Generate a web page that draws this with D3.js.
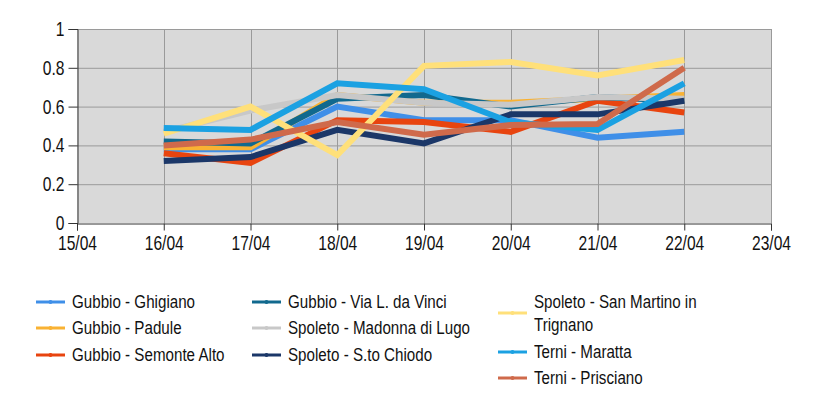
<!DOCTYPE html>
<html>
<head>
<meta charset="utf-8">
<script src="https://cdn.jsdelivr.net/npm/d3@7"></script>
<style>
  html, body { margin: 0; padding: 0; background: #fff; }
  svg { display: block; }
  text { font-family: "Liberation Sans", Arial, sans-serif; fill: #111; }
</style>
</head>
<body>
<svg id="chart" width="827" height="413"></svg>
<script>
const dates = ["16/04", "17/04", "18/04", "19/04", "20/04", "21/04", "22/04"];
const xTicks = ["15/04", "16/04", "17/04", "18/04", "19/04", "20/04", "21/04", "22/04", "23/04"];
const yTicks = [0, 0.2, 0.4, 0.6, 0.8, 1];

const seriesNames = [
  "Gubbio - Ghigiano",
  "Gubbio - Padule",
  "Gubbio - Semonte Alto",
  "Gubbio - Via L. da Vinci",
  "Spoleto - Madonna di Lugo",
  "Spoleto - S.to Chiodo",
  "Spoleto - San Martino in Trignano",
  "Terni - Maratta",
  "Terni - Prisciano"
];
const seriesColors = ["#3f8fe8", "#f9b233", "#e8440f", "#11698e", "#c8c8c8", "#1b3768", "#ffe07a", "#1ba1e2", "#cf6a4b"];

const ghigiano     = [0.38, 0.38, 0.60, 0.53, 0.53, 0.44, 0.47];
const padule       = [0.39, 0.39, 0.66, 0.62, 0.62, 0.64, 0.66];
const semonte      = [0.36, 0.31, 0.53, 0.52, 0.47, 0.63, 0.57];
const viaDaVinci   = [0.42, 0.41, 0.64, 0.66, 0.60, 0.65, 0.63];
const madonna      = [0.47, 0.58, 0.66, 0.62, 0.61, 0.65, 0.64];
const chiodo       = [0.32, 0.34, 0.48, 0.41, 0.56, 0.56, 0.63];
const sanMartino   = [0.46, 0.60, 0.35, 0.81, 0.83, 0.76, 0.84];
const maratta      = [0.49, 0.48, 0.72, 0.69, 0.52, 0.48, 0.72];
const prisciano    = [0.40, 0.43, 0.52, 0.455, 0.505, 0.51, 0.80];

const seriesValues = [ghigiano, padule, semonte, viaDaVinci, madonna, chiodo, sanMartino, maratta, prisciano];

const svg = d3.select("#chart");
const plot = { left: 77, right: 771, top: 29, bottom: 223 };
const SX = 0.78; // narrow-font emulation for axes
const SXL = 0.82; // narrow-font emulation for legend

const x = d3.scalePoint().domain(xTicks).range([plot.left, plot.right]);
const y = d3.scaleLinear().domain([0, 1]).range([plot.bottom, plot.top]);

// plot background
svg.append("rect")
  .attr("x", plot.left).attr("y", plot.top)
  .attr("width", plot.right - plot.left).attr("height", plot.bottom - plot.top)
  .attr("fill", "#d9d9d9");

// gridlines
svg.append("g").selectAll("line").data(yTicks.filter(d => d > 0))
  .join("line")
  .attr("x1", plot.left).attr("x2", plot.right)
  .attr("y1", d => y(d) + 0.5).attr("y2", d => y(d) + 0.5)
  .attr("stroke", "#9a9a9a").attr("stroke-width", 1);
svg.append("g").selectAll("line").data(xTicks.slice(1))
  .join("line")
  .attr("y1", plot.top).attr("y2", plot.bottom)
  .attr("x1", d => Math.round(x(d)) + 0.5).attr("x2", d => Math.round(x(d)) + 0.5)
  .attr("stroke", "#9a9a9a").attr("stroke-width", 1);

// axes
const yAxis = d3.axisLeft(y).tickValues(yTicks).tickFormat(d3.format("~g")).tickSize(9).tickPadding(4);
const gy = svg.append("g").attr("transform", `translate(${plot.left + 0.5},0)`).call(yAxis);
gy.selectAll("text").style("font-size", "20px").attr("fill", "#111")
  .attr("x", -13 / SX).attr("transform", `scale(${SX},1)`);
gy.selectAll("line, path").attr("stroke", "#333");

const xAxis = d3.axisBottom(x).tickSize(7).tickPadding(5);
const gx = svg.append("g").attr("transform", `translate(0,${plot.bottom + 0.5})`).call(xAxis);
gx.selectAll("text").style("font-size", "20px").attr("fill", "#111")
  .attr("transform", `scale(${SX},1)`);
gx.selectAll("line, path").attr("stroke", "#333");

// lines
const line = d3.line().x((d, i) => x(dates[i])).y(d => y(d));
svg.append("g").selectAll("path").data(seriesValues)
  .join("path")
  .attr("d", d => line(d))
  .attr("fill", "none")
  .attr("stroke", (d, i) => seriesColors[i])
  .attr("stroke-width", 6)
  .attr("stroke-linejoin", "miter");

// legend
const legendPos = [
  { x: 36, y: 302, lines: ["Gubbio - Ghigiano"] },
  { x: 36, y: 328, lines: ["Gubbio - Padule"] },
  { x: 36, y: 355, lines: ["Gubbio - Semonte Alto"] },
  { x: 252, y: 302, lines: ["Gubbio - Via L. da Vinci"] },
  { x: 252, y: 328, lines: ["Spoleto - Madonna di Lugo"] },
  { x: 252, y: 355, lines: ["Spoleto - S.to Chiodo"] },
  { x: 498, y: 313, lines: ["Spoleto - San Martino in", "Trignano"] },
  { x: 498, y: 352, lines: ["Terni - Maratta"] },
  { x: 498, y: 378, lines: ["Terni - Prisciano"] }
];
const lg = svg.append("g").selectAll("g").data(seriesNames).join("g")
  .attr("transform", (d, i) => `translate(${legendPos[i].x},${legendPos[i].y})`);
lg.append("line").attr("x1", 0).attr("x2", 29).attr("y1", 0).attr("y2", 0)
  .attr("stroke", (d, i) => seriesColors[i]).attr("stroke-width", 3);
lg.append("circle").attr("cx", 14.5).attr("cy", 0).attr("r", 2)
  .attr("fill", (d, i) => seriesColors[i]);
lg.each(function(d, i) {
  const ls = legendPos[i].lines;
  const t = d3.select(this).append("text")
    .attr("transform", `translate(36,0) scale(${SXL},1)`)
    .style("font-size", "18.5px");
  ls.forEach((s, k) => {
    t.append("tspan").attr("x", 0)
      .attr("y", (k - (ls.length - 1) / 2) * 23)
      .attr("dy", "0.35em").text(s);
  });
});
</script>
</body>
</html>
